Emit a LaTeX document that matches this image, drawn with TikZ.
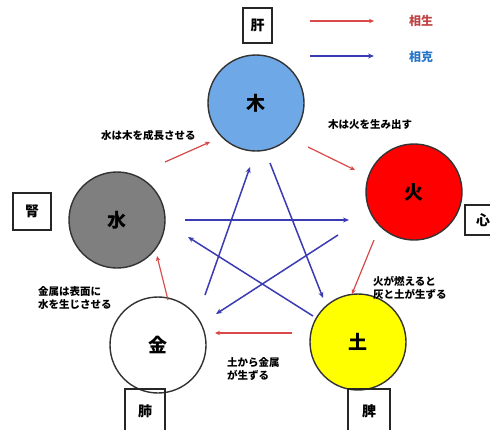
\documentclass[tikz,border=0pt]{standalone}
\usepackage{fontspec}
\newfontfamily\jp{Noto Sans CJK JP}
\usetikzlibrary{arrows.meta}
\definecolor{woodc}{HTML}{6FA8E6}
\definecolor{waterc}{HTML}{7F7F7F}
\definecolor{firec}{HTML}{FF0000}
\definecolor{earthc}{HTML}{FFFF00}
\definecolor{genred}{HTML}{D84A4A}
\definecolor{ctrlblue}{HTML}{3B3BB3}
\definecolor{rimc}{HTML}{333333}
\begin{document}
\begin{tikzpicture}[x=1pt,y=-1pt,
  elem/.style={circle, draw=rimc, line width=1.4pt, minimum size=96pt, inner sep=0pt,
    font=\jp\bfseries\fontsize{19}{19}\selectfont},
  organ/.style={draw=black!85, line width=1.3pt, inner sep=0pt,
    font=\jp\bfseries\fontsize{14}{14}\selectfont},
  gen/.style={draw=genred, line width=1.2pt, -{Stealth[length=5pt,width=4.5pt]}},
  ctrl/.style={draw=ctrlblue, line width=1.5pt, -{Stealth[length=6pt,width=5pt]}},
  lbl/.style={font=\jp\bfseries\fontsize{10.5}{12.5}\selectfont, align=left, inner sep=0pt, anchor=west},
  legend/.style={font=\jp\bfseries\fontsize{12}{12}\selectfont, inner sep=0pt}]
\useasboundingbox (0,0) rectangle (490,429);
\clip (0,0) rectangle (490,429);
\fill[white] (0,0) rectangle (490,429);

% element circles
\node[elem, fill=woodc]  (wood)  at (256,103) {木};
\node[elem, fill=firec]  (fire)  at (414,192) {火};
\node[elem, fill=earthc] (earth) at (358,342) {土};
\node[elem, fill=white]  (metal) at (158,345) {金};
\node[elem, fill=waterc] (water) at (117,220) {水};

% organ boxes
\node[organ, minimum width=29pt, minimum height=35pt] (liver)  at (257.5,25.5) {肝};
\node[organ, minimum width=38pt, minimum height=37pt] (kidney) at (32,211.5) {腎};
\node[organ, minimum width=36pt, minimum height=30pt] (heart)  at (483,220) {心};
\node[organ, minimum width=40pt, minimum height=44pt] (lung)   at (145,411) {肺};
\node[organ, minimum width=42pt, minimum height=44pt] (spleen) at (369,411) {脾};

% legend
\coordinate (lg1a) at (310,21); \coordinate (lg1b) at (374,21);
\coordinate (lg2a) at (310,56); \coordinate (lg2b) at (374,56);
\draw[gen] (lg1a) -- (lg1b);
\draw[ctrl, line width=1.2pt] (lg2a) -- (lg2b);
\node[legend, text=genred!90!black] (lgen) at (421,21) {相生};
\node[legend, text=ctrlblue!70!cyan] (lctl) at (421,57) {相克};

% generating cycle (red)
\coordinate (g1a) at (165,162); \coordinate (g1b) at (210,142);
\coordinate (g2a) at (308,147); \coordinate (g2b) at (355,170);
\coordinate (g3a) at (374,240); \coordinate (g3b) at (352,294);
\coordinate (g4a) at (292,333); \coordinate (g4b) at (215,333);
\coordinate (g5a) at (168,300); \coordinate (g5b) at (157,256);
\draw[gen] (g1a) -- (g1b);
\draw[gen] (g2a) -- (g2b);
\draw[gen] (g3a) -- (g3b);
\draw[gen] (g4a) -- (g4b);
\draw[gen] (g5a) -- (g5b);

% controlling cycle (blue star)
\coordinate (c1a) at (185,220); \coordinate (c1b) at (349,220);
\coordinate (c2a) at (205,295); \coordinate (c2b) at (250,167);
\coordinate (c3a) at (270,163); \coordinate (c3b) at (323,298);
\coordinate (c4a) at (313,316); \coordinate (c4b) at (188,237);
\coordinate (c5a) at (338,235); \coordinate (c5b) at (216,314);
\draw[ctrl] (c1a) -- (c1b);
\draw[ctrl] (c2a) -- (c2b);
\draw[ctrl] (c3a) -- (c3b);
\draw[ctrl] (c4a) -- (c4b);
\draw[ctrl] (c5a) -- (c5b);

% labels
\node[lbl] (t1) at (101,135) {水は木を成長させる};
\node[lbl] (t2) at (328,125) {木は火を生み出す};
\node[lbl] (t3) at (373,288) {火が燃えると\\灰と土が生ずる};
\node[lbl] (t4) at (227,369) {土から金属\\が生ずる};
\node[lbl] (t5) at (38,298) {金属は表面に\\水を生じさせる};
\end{tikzpicture}
\end{document}
